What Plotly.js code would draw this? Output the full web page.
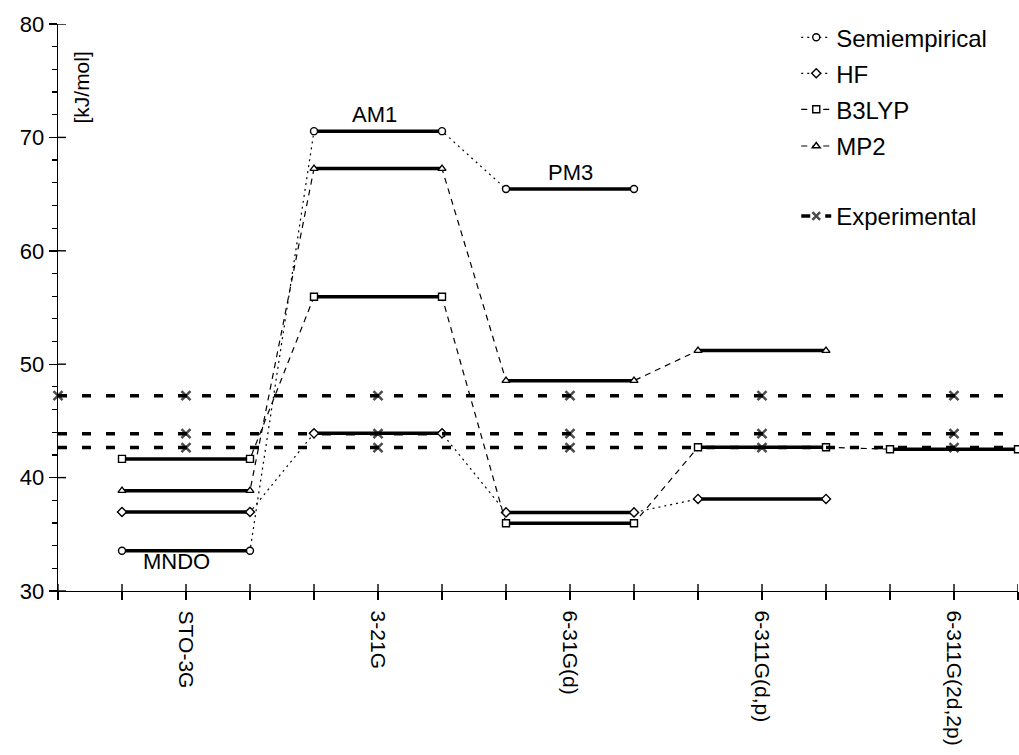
<!DOCTYPE html>
<html>
<head>
<meta charset="utf-8">
<script src="https://cdn.plot.ly/plotly-3.0.1.min.js"></script>
<style>
  html, body { margin: 0; padding: 0; background: #fff; }
  #chart { width: 1019px; height: 755px; }
</style>
</head>
<body>
<div id="chart"></div>
<script>
// ---- data ----
const categories = ['STO-3G', '3-21G', '6-31G(d)', '6-311G(d,p)', '6-311G(2d,2p)'];
const semiempirical = [33.55, 70.55, 65.45, null, null];
const semiLabels = ['MNDO', 'AM1', 'PM3'];
const hf = [36.97, 43.9, 36.93, 38.12, null];
const b3lyp = [41.65, 55.95, 35.97, 42.68, 42.5];
const mp2 = [38.85, 67.25, 48.55, 51.2, null];
const experimental = [47.22, 43.87, 42.65];
const yTickVals = [30, 40, 50, 60, 70, 80];

// ---- helpers ----
const FONT = 'Liberation Sans, Arial, sans-serif';
function segX(k) { return [3 * k + 1, 3 * k + 3]; }
function centerX(k) { return 3 * k + 2; }

function levelTraces(name, values, symbol, dash, legendId) {
  const segXs = [], segYs = [], conXs = [], conYs = [];
  values.forEach((v, k) => {
    if (v === null) return;
    const [a, b] = segX(k);
    segXs.push(a, b, null); segYs.push(v, v, null);
    conXs.push(a, b); conYs.push(v, v);
  });
  return [
    { x: segXs, y: segYs, mode: 'lines', showlegend: false, hoverinfo: 'skip',
      line: { color: '#000', width: 3.5 }, cliponaxis: false },
    { x: conXs, y: conYs, mode: 'lines+markers', name: name, legend: legendId,
      line: { color: '#000', width: 1.2, dash: dash },
      marker: { symbol: symbol, size: 7, color: '#fff', line: { color: '#000', width: 1.4 } },
      cliponaxis: false }
  ];
}

const traces = [];
traces.push(...levelTraces('Semiempirical', semiempirical, 'circle', '2px,4px', 'legend'));
traces.push(...levelTraces('HF', hf, 'diamond', '2px,4px', 'legend2'));
traces.push(...levelTraces('B3LYP', b3lyp, 'square', '6px,5px', 'legend3'));
traces.push(...levelTraces('MP2', mp2, 'triangle-up', '6px,5px', 'legend4'));

// experimental dashed lines with x markers at category centres
const nCat = categories.length;
const xMax = 3 * nCat;
experimental.forEach((v, i) => {
  const xs = [0], ys = [v], sizes = [i === 0 ? 9 : 0];
  categories.forEach((c, k) => { xs.push(centerX(k)); ys.push(v); sizes.push(9); });
  xs.push(xMax); ys.push(v); sizes.push(0);
  traces.push({
    x: xs, y: ys, mode: 'lines+markers', name: 'Experimental',
    legend: 'legend5', showlegend: i === 0, cliponaxis: false,
    line: { color: '#000', width: 3.5, dash: '9px,15px' },
    marker: { symbol: 'x-thin', size: sizes, color: '#000', line: { color: '#000', width: 2.5 } }
  });
});

// tick labels
const xTickVals = [], xTickText = [];
for (let t = 0; t <= xMax; t++) {
  xTickVals.push(t);
  const k = (t - 2) / 3;
  xTickText.push(Number.isInteger(k) && k >= 0 && k < nCat ? categories[k] : '');
}

// inner halves of the crossing tick marks, drawn as line traces from the tick values
const tickInX = [], tickInY = [];
xTickVals.forEach(t => { tickInX.push(t, t, null); tickInY.push(30, 30 + 7 / 11.34, null); });
traces.push({ x: tickInX, y: tickInY, mode: 'lines', showlegend: false, hoverinfo: 'skip',
  line: { color: '#000', width: 1.4 }, cliponaxis: false });
const tickInX2 = [], tickInY2 = [];
yTickVals.forEach(t => { tickInX2.push(0, 8 / 64, null); tickInY2.push(t, t, null); });
traces.push({ x: tickInX2, y: tickInY2, mode: 'lines', showlegend: false, hoverinfo: 'skip',
  line: { color: '#000', width: 1.4 }, cliponaxis: false });

// annotations
const labelShift = [[-10, -11], [-4, 17], [0, 17]];
const annotations = semiLabels.map((txt, k) => ({
  x: centerX(k), y: semiempirical[k], xref: 'x', yref: 'y', text: txt, showarrow: false,
  xshift: labelShift[k][0], yshift: labelShift[k][1], xanchor: 'center', yanchor: 'middle',
  font: { family: FONT, size: 22, color: '#000' }
}));
annotations.push({
  x: 0.36, y: 74.4, xref: 'x', yref: 'y', text: '[kJ/mol]', textangle: -90, showarrow: false,
  xanchor: 'center', yanchor: 'middle', font: { family: FONT, size: 21, color: '#000' }
});

function legendAt(ypx) {
  return {
    x: 0.769, y: (591.3 - ypx) / 567, xanchor: 'left', yanchor: 'middle',
    bgcolor: 'rgba(0,0,0,0)', borderwidth: 0,
    font: { family: FONT, size: 24, color: '#000' }
  };
}

const axisCommon = { showgrid: false, zeroline: false, linecolor: '#000', tickcolor: '#000',
  tickwidth: 1.4, fixedrange: true };

const layout = {
  width: 1019, height: 755,
  margin: { l: 58, r: 1, t: 24, b: 164, pad: 0 },
  paper_bgcolor: '#fff', plot_bgcolor: '#fff',
  font: { family: FONT, size: 22, color: '#000' },
  xaxis: Object.assign({}, axisCommon, {
    range: [0, xMax], tickmode: 'array', tickvals: xTickVals, ticktext: xTickText,
    ticks: 'outside', ticklen: 8, tickangle: 90, showline: true, linewidth: 1.4,
    ticklabelstandoff: 6,
    tickfont: { family: FONT, size: 21, color: '#000' }
  }),
  yaxis: Object.assign({}, axisCommon, {
    range: [30, 80], tickmode: 'array', tickvals: yTickVals, ticks: 'outside', ticklen: 8,
    showline: true, linewidth: 1.4,
    minor: { dtick: 2, ticks: 'outside', ticklen: 5, tickcolor: '#000', tickwidth: 1.2 },
    tickfont: { family: FONT, size: 22, color: '#000' }
  }),
  legend: legendAt(38),
  legend2: legendAt(74),
  legend3: legendAt(110),
  legend4: legendAt(146.7),
  legend5: legendAt(216.7),
  annotations: annotations,
  showlegend: true
};

Plotly.newPlot('chart', traces, layout, { displayModeBar: false, staticPlot: true });
</script>
</body>
</html>
